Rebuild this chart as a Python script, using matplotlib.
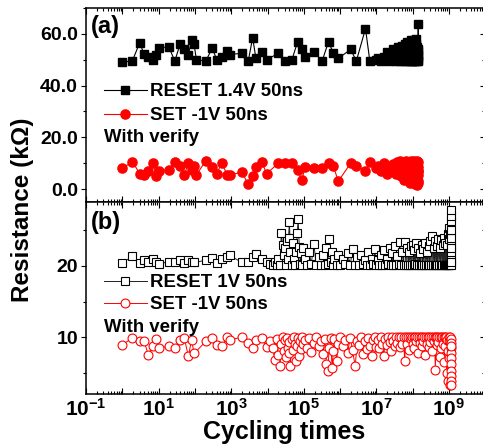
import matplotlib
matplotlib.use("Agg")
import matplotlib.pyplot as plt
from matplotlib.ticker import LogLocator, FuncFormatter, MultipleLocator, NullFormatter

plt.rcParams['font.family'] = ['Liberation Sans', 'DejaVu Sans']
plt.rcParams['font.weight'] = 'bold'
plt.rcParams['mathtext.fontset'] = 'custom'
plt.rcParams['mathtext.rm'] = 'Liberation Sans:bold'
plt.rcParams['mathtext.bf'] = 'Liberation Sans:bold'
plt.rcParams['mathtext.it'] = 'Liberation Sans:bold'
plt.rcParams['mathtext.default'] = 'bf'

# ---------------- data: panel (a) ----------------
cycles_a = [1, 1.9, 3, 4, 5.2, 7, 8.5, 10, 19, 28, 39, 51, 66, 81, 95, 110, 200, 300, 400, 550,
            780, 910, 1950, 2950, 3900, 4800, 6900, 9500, 2.0e4, 3.0e4, 4.7e4, 6.8e4, 8.7e4, 1.1e5,
            1.9e5, 3.2e5, 4.8e5, 6.5e5, 8.9e5, 1.95e6, 2.8e6, 5.0e6, 6.6e6, 1.0e7,
            1.1e7, 1.3e7, 1.6e7, 1.9e7, 2.2e7, 2.5e7, 2.8e7, 3.1e7, 3.4e7, 3.7e7,
            4.0e7, 4.3e7, 4.6e7, 4.9e7, 5.2e7, 5.5e7, 5.8e7, 6.1e7, 6.4e7, 6.7e7,
            7.0e7, 7.3e7, 7.6e7, 7.9e7, 8.2e7, 8.5e7, 8.8e7, 9.1e7, 9.4e7, 9.7e7,
            1.0e8, 1.03e8, 1.06e8, 1.09e8, 1.12e8, 1.15e8, 1.18e8, 1.21e8, 1.24e8, 1.27e8,
            1.30e8, 1.32e8, 1.34e8, 1.36e8, 1.38e8, 1.40e8, 1.41e8, 1.42e8, 1.43e8, 1.44e8]
reset_a = [49, 49.6, 56.5, 52.2, 51, 50, 52, 54.5, 55, 49.5, 56, 54, 52, 57.5, 56, 50, 49.5, 54.5, 50, 51,
           53.5, 52, 52.5, 49.5, 58.5, 50.5, 53, 50, 52.5, 49.5, 50, 57, 54, 51,
           53, 49.5, 57, 52.5, 50.5, 54, 49.5, 62, 49.5, 50,
           50.5, 49.5, 51, 53, 49.5, 52, 54, 50, 49.5, 52.5,
           55, 50, 49.5, 53, 55.5, 51, 49.5, 56, 52, 49.5,
           57, 54, 50, 49.5, 56.5, 53, 49.5, 57.5, 51, 49.5,
           57, 55, 50, 49.5, 57.5, 53, 49.5, 56, 52, 58,
           49.5, 55, 50, 52, 51, 53.5, 49.5, 64, 50, 54]
set_a = [8.0, 10.6, 6.0, 5.5, 7.0, 10.0, 5.0, 7.0, 7.5, 10.5, 9.0, 5.5, 10.0, 7.5, 9.0, 5.5, 11.0, 8.5, 6.0, 10.0,
         5.5, 5.5, 6.5, 2.0, 5.0, 8.5, 10.5, 6.0, 10.0, 10.0, 10.0, 7.5, 3.5, 8.5,
         8.0, 8.0, 10.0, 9.0, 3.0, 10.0, 9.0, 7.0, 10.5, 8.0,
         9, 7, 10, 6, 8, 7.5, 9.5, 7, 6, 10.5,
         6, 8.5, 11, 5, 7.5, 10, 3.5, 9, 6.5, 11,
         8, 4.5, 10, 7, 2.5, 9.5, 11, 6, 8, 3,
         10.5, 7.5, 5, 11, 9, 2, 6.5, 10, 8, 4,
         11, 1.5, 9, 7, 3, 10.5, 5.5, 8.5, 2.5, 7]

# ---------------- data: panel (b) ----------------
cycles_b = [1, 1.9, 3, 4, 5.2, 7, 8.5, 10, 19, 28, 39, 51, 66, 81, 95, 200, 300, 400, 550, 780,
            910, 1950, 2950, 3900, 4800, 6900, 9500,
            1.2e4, 1.4e4, 1.6e4, 1.8e4, 2.0e4, 2.2e4, 2.4e4, 2.6e4, 2.8e4, 3.0e4,
            3.2e4, 3.4e4, 3.6e4, 3.8e4, 4.0e4, 4.3e4, 4.6e4, 5.0e4, 5.4e4, 5.8e4,
            6.2e4, 6.6e4, 7.0e4, 7.5e4, 8.0e4, 8.5e4, 9.0e4, 9.5e4,
            1.05e5, 1.2e5, 1.4e5, 1.6e5, 1.9e5, 2.2e5, 2.6e5, 3.0e5, 3.4e5, 3.8e5,
            4.2e5, 4.6e5, 5.0e5, 5.5e5, 6.0e5, 6.5e5, 7.0e5, 8.0e5, 9.0e5, 1.0e6,
            1.2e6, 1.4e6, 1.6e6, 1.9e6, 2.2e6, 2.6e6, 3.0e6, 3.4e6, 3.8e6, 4.3e6,
            4.8e6, 5.4e6, 6.0e6, 6.7e6, 7.4e6, 8.2e6, 9.0e6, 9.8e6,
            1.1e7, 1.2e7, 1.3e7, 1.45e7, 1.6e7, 1.75e7, 1.9e7, 2.1e7, 2.3e7, 2.5e7,
            2.7e7, 2.9e7, 3.2e7, 3.5e7, 3.8e7, 4.1e7, 4.4e7, 4.8e7, 5.2e7, 5.6e7,
            6.0e7, 6.5e7, 7.0e7, 7.5e7, 8.0e7, 8.5e7, 9.0e7, 9.5e7, 1.0e8, 1.06e8,
            1.12e8, 1.18e8, 1.25e8, 1.32e8, 1.4e8, 1.48e8, 1.56e8, 1.65e8, 1.75e8, 1.85e8,
            1.95e8, 2.05e8, 2.15e8, 2.3e8, 2.45e8, 2.6e8, 2.75e8, 2.9e8, 3.05e8, 3.2e8,
            3.4e8, 3.6e8, 3.8e8, 4.0e8, 4.2e8, 4.4e8, 4.6e8, 4.8e8, 5.0e8, 5.3e8,
            5.6e8, 5.9e8, 6.2e8, 6.5e8, 6.8e8, 7.1e8, 7.4e8, 7.7e8, 8.0e8, 8.3e8,
            8.6e8, 8.9e8, 9.2e8, 9.5e8, 9.8e8, 1.0e9, 1.02e9, 1.04e9, 1.06e9, 1.08e9,
            1.12e9, 1.12e9, 1.12e9, 1.12e9, 1.12e9, 1.12e9, 1.12e9, 1.12e9, 1.12e9, 1.12e9, 1.12e9]
reset_b = [20.4, 21.4, 20.4, 20.8, 20.5, 21.0, 20.5, 20.3, 20.6, 20.5, 20.8, 20.4, 20.8, 20.5, 20.5,
           20.8, 21.1, 20.4, 21.0, 21.2, 21.5, 20.5, 20.6, 21.2, 21.7, 21.0, 20.5,
           20.3, 20.1, 20.5, 20.2, 21.0, 20.1, 24.6, 23.0, 21.5, 22.5,
           20.2, 23.5, 21.0, 24.0, 26.2, 22.0, 20.1, 23.2, 21.0, 20.2,
           22.0, 24.6, 26.6, 22.7, 20.3, 21.8, 20.1, 22.5,
           21.0, 20.2, 22.0, 20.3, 23.1, 20.1, 21.2, 20.2, 21.5, 20.1,
           22.5, 20.3, 23.8, 20.5, 22.0, 20.1, 21.0, 20.2, 21.6, 20.1,
           21.0, 20.3, 21.8, 20.1, 22.4, 20.2, 21.2, 20.1, 21.5, 20.3,
           20.9, 20.1, 22.0, 20.2, 21.0, 20.3, 22.4, 20.1,
           20.8, 20.1, 21.6, 20.2, 22.2, 20.1, 21.0, 20.3, 22.5, 20.1,
           21.8, 20.2, 22.8, 20.1, 21.4, 20.3, 23.4, 20.1, 22.0, 20.2,
           23.4, 20.1, 22.6, 20.2, 21.9, 20.1, 22.8, 20.2, 23.0, 20.1,
           22.2, 20.3, 23.2, 20.1, 22.5, 20.2, 21.8, 20.1, 23.0, 20.2,
           22.4, 20.1, 23.3, 20.2, 22.0, 20.1, 22.8, 20.2, 23.5, 20.1,
           24.2, 20.2, 22.6, 20.1, 23.5, 20.2, 22.8, 20.1, 23.8, 20.2,
           22.5, 20.1, 23.6, 20.2, 22.9, 20.1, 24.0, 20.2, 23.2, 20.1,
           22.9, 20.2, 24.5, 20.1, 25.3, 20.2, 23.8, 20.3, 24.5, 20.1,
           20.2, 21.0, 22.0, 23.0, 24.0, 25.0, 26.3, 27.0, 27.9, 22.5, 20.5]
set_b = [8.9, 9.9, 9.4, 9.4, 7.5, 8.7, 9.7, 8.5, 8.7, 8.5, 9.6, 9.9, 7.3, 9.6, 7.7,
         9.4, 9.9, 8.9, 8.7, 10.0, 9.6, 10.0, 9.2, 8.5, 9.6, 9.9, 8.6,
         9.5, 8.5, 6.8, 9.8, 7.5, 5.9, 9.0, 10.0, 8.0, 9.6,
         7.2, 9.9, 8.5, 9.3, 7.8, 6.0, 9.7, 8.2, 10.0, 9.0,
         6.6, 8.8, 9.9, 7.4, 9.5, 8.3, 10.0, 9.1,
         9.6, 8.4, 9.9, 7.9, 9.2, 10.0, 8.8, 9.5, 7.6, 9.8,
         6.2, 5.2, 8.5, 9.9, 5.6, 8.0, 9.7, 6.6, 9.0, 10.0,
         8.7, 9.6, 7.8, 9.9, 8.2, 5.9, 9.5, 8.9, 10.0, 7.6,
         9.4, 8.3, 9.9, 8.8, 7.3, 9.6, 10.0, 8.6,
         9.6, 8.4, 10.0, 9.1, 7.3, 9.8, 8.9, 10.0, 9.3, 8.0,
         10.0, 9.5, 8.7, 10.0, 9.2, 10.0, 8.6, 10.0, 9.0, 10.0,
         6.7, 10.0, 9.0, 10.0, 8.2, 10.0, 9.7, 10.0, 9.0, 10.0,
         8.5, 10.0, 9.4, 10.0, 7.8, 10.0, 9.2, 10.0, 8.8, 10.0,
         9.5, 10.0, 7.5, 10.0, 9.0, 10.0, 8.6, 10.0, 9.3, 10.0,
         8.1, 10.0, 9.4, 10.0, 5.4, 10.0, 8.9, 10.0, 9.3, 10.0,
         7.2, 10.0, 8.4, 10.0, 9.1, 10.0, 6.5, 10.0, 8.8, 10.0,
         5.0, 9.6, 8.0, 3.8, 10.0, 7.0, 9.4, 3.2, 9.5, 10.0,
         9.8, 9.2, 8.5, 7.8, 7.0, 6.2, 5.3, 4.5, 3.8, 3.2, 8.8]

labels_a = ['RESET 1.4V 50ns', 'SET -1V 50ns']
labels_b = ['RESET 1V 50ns', 'SET -1V 50ns']
yticks_a = [0, 20, 40, 60]
yticks_b = [10, 20]

W, H = 483, 446
fig = plt.figure(figsize=(W / 100, H / 100), dpi=100)

def px_axes(l, t, r, b):
    return fig.add_axes([l / W, 1 - b / H, (r - l) / W, (b - t) / H])

axA = px_axes(86, 8, 485.3, 202)
axB = px_axes(86, 202, 485.3, 394)

axA.plot(cycles_a, reset_a, '-', color='black', lw=0.8, marker='s', ms=5.6,
         mfc='black', mec='black', label=labels_a[0])
axA.plot(cycles_a, set_a, '-', color='red', lw=0.8, marker='o', ms=6.6,
         mfc='red', mec='red', label=labels_a[1])

axB.plot(cycles_b, reset_b, '-', color='#222222', lw=0.7, marker='s', ms=5.4,
         mfc='white', mec='black', mew=0.8, label=labels_b[0])
axB.plot(cycles_b, set_b, '-', color='red', lw=0.7, marker='o', ms=6.4,
         mfc='white', mec='red', mew=0.8, label=labels_b[1])

def fmt_x(v, pos):
    import math
    if v <= 0:
        return ''
    e = int(round(math.log10(v)))
    if e % 2 == 0:
        return ''
    return r'$\mathbf{10^{%d}}$' % e

for ax in (axA, axB):
    ax.set_xscale('log')
    ax.set_xlim(0.1, 1e10)
    ax.xaxis.set_major_locator(LogLocator(base=10, numticks=20))
    ax.xaxis.set_minor_locator(LogLocator(base=10, subs=range(2, 10), numticks=200))
    ax.xaxis.set_minor_formatter(NullFormatter())
    for s in ax.spines.values():
        s.set_linewidth(1.1)
    ax.tick_params(axis='x', which='both', direction='in', top=True, bottom=True, width=0.8)
    ax.tick_params(axis='x', which='major', length=4)
    ax.tick_params(axis='x', which='minor', length=2.2)
    ax.tick_params(axis='y', which='both', direction='out', left=True, right=False, width=0.8)
    ax.tick_params(axis='y', which='major', length=3.8, labelsize=14, pad=2)
    ax.tick_params(axis='y', which='minor', length=2.4)
    ax.yaxis.set_minor_locator(MultipleLocator(5 if ax is axB else 10))
    sec = ax.secondary_yaxis('right')
    sec.set_yticks(yticks_b if ax is axB else yticks_a)
    sec.yaxis.set_minor_locator(MultipleLocator(5 if ax is axB else 10))
    sec.tick_params(axis='y', which='both', direction='in', labelright=False, width=0.8)
    sec.tick_params(axis='y', which='major', length=3.8)
    sec.tick_params(axis='y', which='minor', length=2.4)

axA.set_ylim(-5, 70)
axA.set_yticks(yticks_a)
axA.set_yticklabels(['%.1f' % v for v in yticks_a], fontweight='bold')
axA.tick_params(axis='x', labelbottom=False)

axB.set_ylim(2, 29)
axB.set_yticks(yticks_b)
axB.set_yticklabels(['%d' % v for v in yticks_b], fontweight='bold')
axB.xaxis.set_major_formatter(FuncFormatter(fmt_x))
axB.tick_params(axis='x', which='major', labelsize=15, pad=2.5)

leg_common = dict(frameon=False, loc='upper left', borderpad=0, borderaxespad=0,
                  handlelength=2.3, handletextpad=0.15,
                  prop={'weight': 'bold', 'size': 13.4})
axA.legend(bbox_to_anchor=(0.045, 0.613), labelspacing=0.38, **leg_common)
axB.legend(bbox_to_anchor=(0.045, 0.625), labelspacing=0.27, **leg_common)

axA.text(0.045, 0.335, 'With verify', transform=axA.transAxes, fontsize=13.4,
         fontweight='bold', va='center', ha='left')
axB.text(0.045, 0.345, 'With verify', transform=axB.transAxes, fontsize=13.4,
         fontweight='bold', va='center', ha='left')

axA.text(0.012, 0.905, '(a)', transform=axA.transAxes, fontsize=17,
         fontweight='bold', va='center', ha='left')
axB.text(0.012, 0.895, '(b)', transform=axB.transAxes, fontsize=17,
         fontweight='bold', va='center', ha='left')

fig.text(23 / W, 1 - 210 / H, 'Resistance (k\u03a9)', rotation=90, fontsize=17.5,
         fontweight='bold', ha='center', va='center')
fig.text(284 / W, 1 - 439 / H, 'Cycling times', fontsize=18,
         fontweight='bold', ha='center', va='baseline')

fig.savefig('out.png', dpi=100)
